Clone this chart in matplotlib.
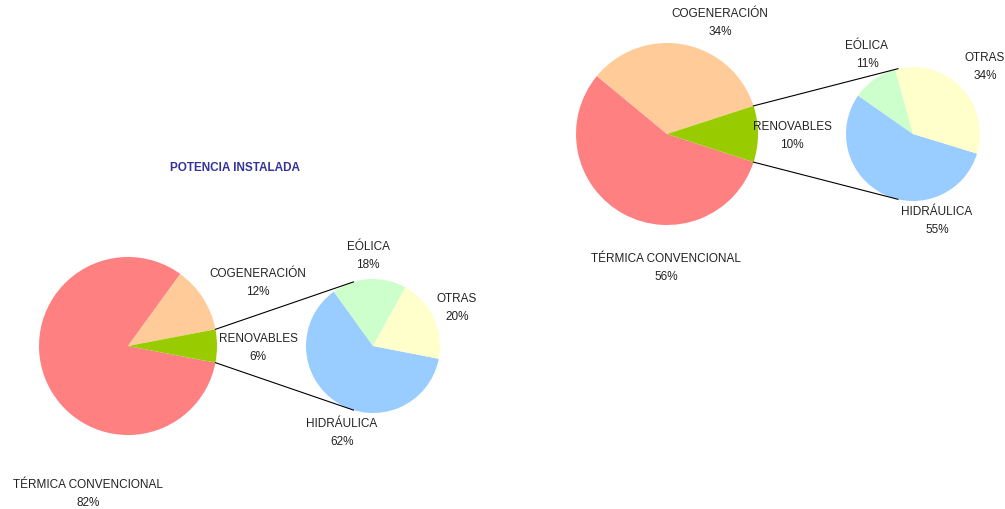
import matplotlib
matplotlib.use('Agg')
from matplotlib import pyplot as plt
import numpy as np

# datos
main_labels = ['TÉRMICA CONVENCIONAL', 'COGENERACIÓN', 'RENOVABLES']
sub_labels = ['HIDRÁULICA', 'EÓLICA', 'OTRAS']
potencia_main = [82, 12, 6]
potencia_sub = [62, 18, 20]
energia_main = [56, 34, 10]
energia_sub = [55, 11, 34]

main_colors = ['#FF8080', '#FFCC99', '#99CC00']
sub_colors = ['#99CCFF', '#CCFFCC', '#FFFFCC']

W, H = 1005, 510
fig = plt.figure(figsize=(W / 100, H / 100), dpi=100)
ax = fig.add_axes([0, 0, 1, 1])
plt.rcParams['font.family'] = ['Liberation Sans', 'DejaVu Sans']
FS = 8.5


def y(p):
    # coordenada de pixel (desde arriba) a coordenada del eje
    return H - p


def pie_of_pie(main, sub, c1, r1, c2, r2, sub_start, link_ang, lbl_pos):
    ren = main[2] / sum(main) * 180
    ax.pie(main, colors=main_colors, center=(c1[0], y(c1[1])), radius=r1,
           startangle=-ren, counterclock=False, frame=True)
    ax.pie(sub, colors=sub_colors, center=(c2[0], y(c2[1])), radius=r2,
           startangle=sub_start, counterclock=False, frame=True)
    # lineas de union
    for s in (1, -1):
        a1 = np.radians(s * ren)
        a2 = np.radians(s * link_ang)
        x0 = c1[0] + r1 * np.cos(a1)
        y0 = y(c1[1]) + r1 * np.sin(a1)
        x1 = c2[0] + r2 * np.cos(a2)
        y1 = y(c2[1]) + r2 * np.sin(a2)
        ax.plot([x0, x1], [y0, y1], color='black', lw=0.8)
    vals = main + sub
    names = main_labels + sub_labels
    for name, v, (px, py) in zip(names, vals, lbl_pos):
        ax.text(px, y(py), '%s\n%d%%' % (name, v), ha='center', va='center',
                fontsize=FS, linespacing=1.65, color='#222222')


pie_of_pie(potencia_main, potencia_sub, (128, 347), 89, (373, 347), 67, -11, 107,
           [(88, 494), (258, 283), (258, 348), (342, 433), (368, 256), (457, 308)])
pie_of_pie(energia_main, energia_sub, (667, 135), 91, (913, 135), 67, -17, 103,
           [(666, 268), (720, 23), (792, 136), (937, 221), (867, 55), (985, 67)])

ax.text(235, y(168), 'POTENCIA INSTALADA', ha='center', va='center',
        fontsize=8.5, fontweight='bold', color='#333399')

ax.set_xlim(0, W)
ax.set_ylim(0, H)
ax.set_aspect('equal')
ax.axis('off')
fig.savefig('out.png', dpi=100, facecolor='white')
